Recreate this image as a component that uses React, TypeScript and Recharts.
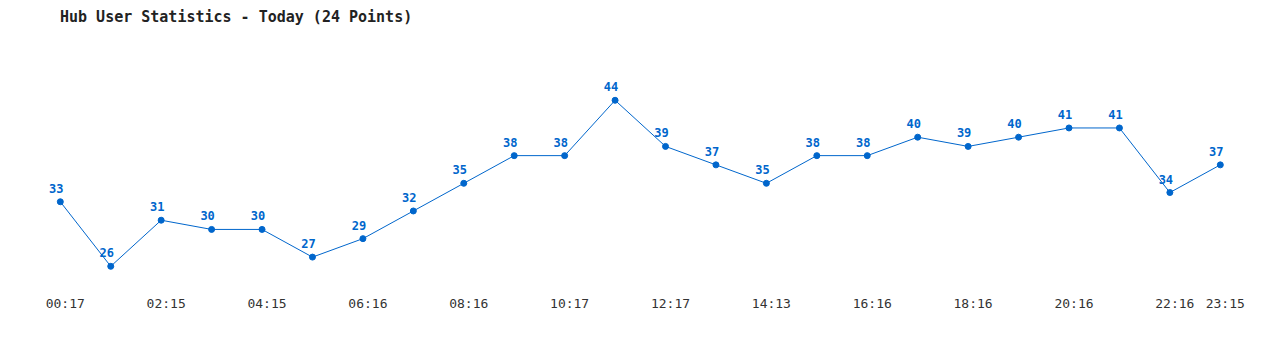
import { LineChart, Line, XAxis, YAxis, LabelList } from "recharts";

// hub users sampled roughly every hour today
const users = [33, 26, 31, 30, 30, 27, 29, 32, 35, 38, 38, 44, 39, 37, 35, 38, 38, 40, 39, 40, 41, 41, 34, 37];
const tickIndex = [0, 2, 4, 6, 8, 10, 12, 14, 16, 18, 20, 22, 23];
const tickLabels = ["00:17", "02:15", "04:15", "06:16", "08:16", "10:17", "12:17", "14:13", "16:16", "18:16", "20:16", "22:16", "23:15"];

const BLUE = "#0066cc";
const MONO = "'DejaVu Sans Mono', 'Liberation Mono', monospace";

const data = users.map((v, i) => ({ i, users: v }));

const TimeTick = ({ x, y, payload }: any) => {
  const k = tickIndex.indexOf(payload.value);
  return (
    <text x={x + 5} y={y + 14} textAnchor="middle" fontFamily={MONO} fontSize={13} fill="#333">
      {k >= 0 ? tickLabels[k] : ""}
    </text>
  );
};

const ValueLabel = ({ x, y, value }: any) => (
  <text x={x - 4} y={y - 9} textAnchor="middle" fontFamily={MONO} fontSize={12} fontWeight="bold" fill={BLUE}>
    {value}
  </text>
);

export default function App() {
  return (
    <div style={{ position: "relative", width: 1264, height: 334 }}>
      <div
        style={{
          position: "absolute",
          left: 52,
          top: 2,
          fontFamily: MONO,
          fontSize: 15,
          lineHeight: "15px",
          fontWeight: "bold",
          color: "#222",
          whiteSpace: "pre",
        }}
      >
        Hub User Statistics - Today (24 Points)
      </div>
      <LineChart width={1264} height={334} data={data} margin={{ top: 55.4, right: 51.7, bottom: 18, left: 52.3 }}>
        <XAxis
          dataKey="i"
          type="number"
          domain={[0, 23]}
          ticks={tickIndex}
          axisLine={false}
          tickLine={false}
          tickSize={0}
          tickMargin={0}
          height={30}
          interval={0}
          tick={<TimeTick />}
        />
        <YAxis hide domain={[23, 48]} />
        <Line
          type="linear"
          dataKey="users"
          stroke={BLUE}
          strokeWidth={1}
          dot={{ r: 3, fill: BLUE, stroke: BLUE, strokeWidth: 1 }}
          activeDot={false}
          isAnimationActive={false}
        >
          <LabelList dataKey="users" content={<ValueLabel />} />
        </Line>
      </LineChart>
    </div>
  );
}
